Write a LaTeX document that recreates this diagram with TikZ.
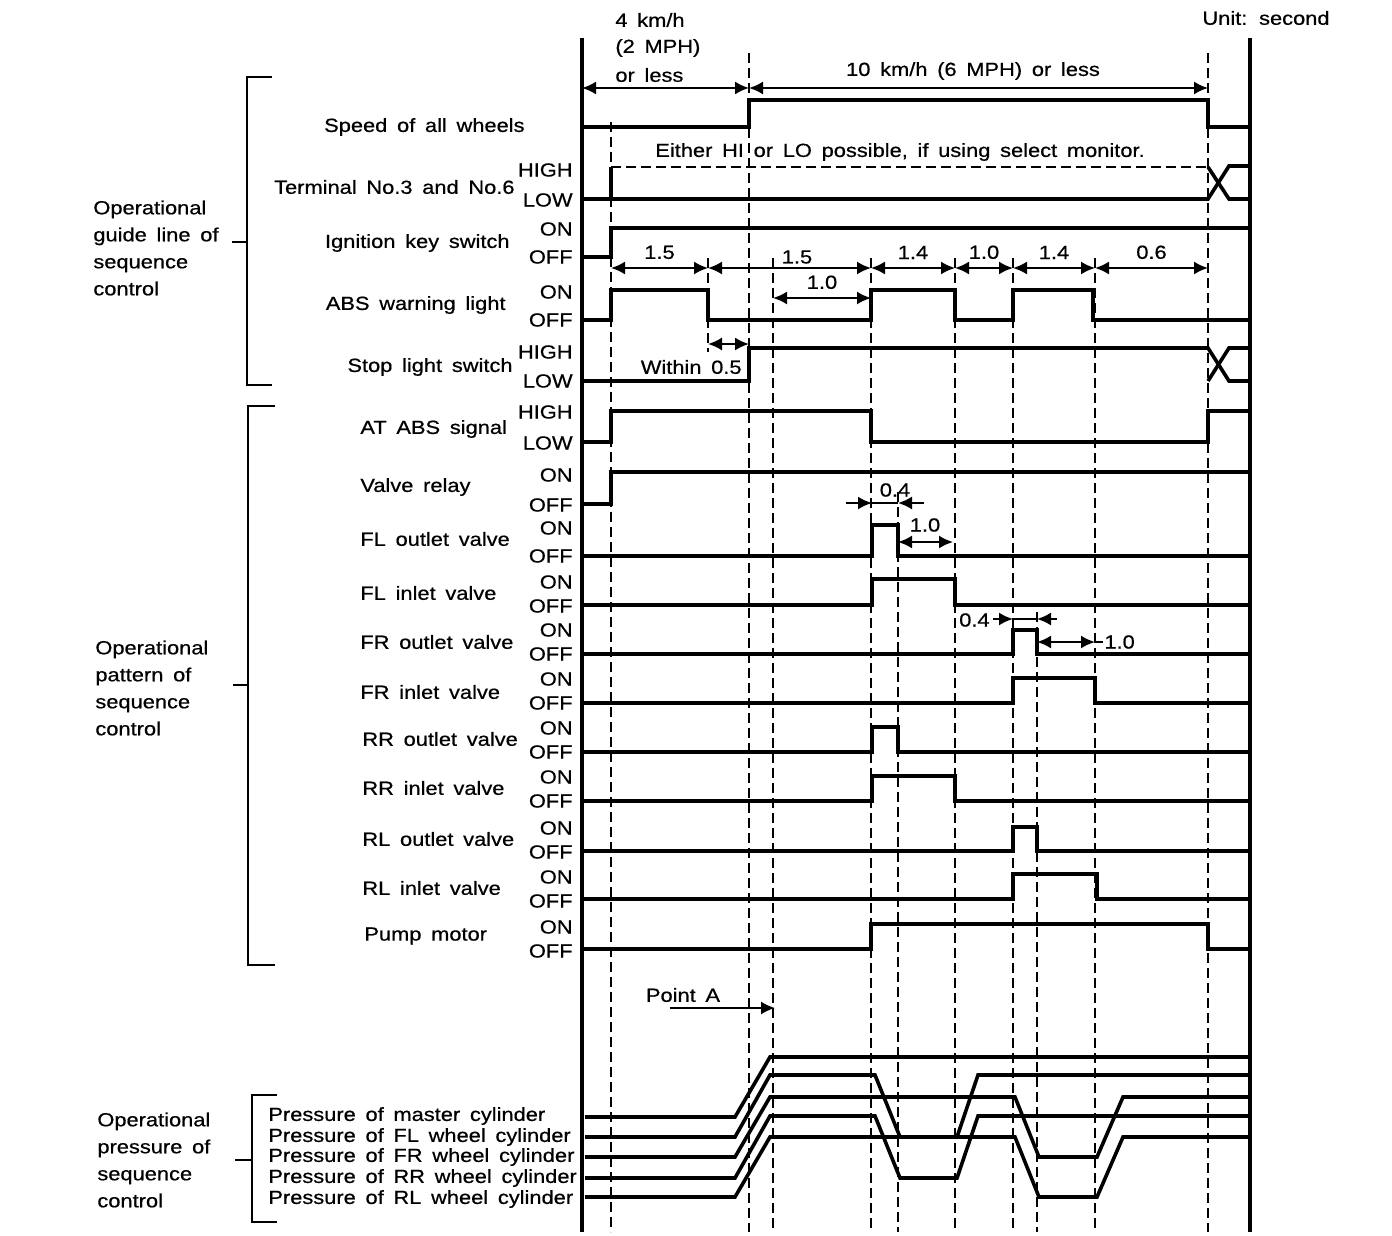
\documentclass[tikz,border=0pt]{standalone}
\usepackage{fontspec}
\setmainfont{Liberation Sans}[FakeStretch=1.15, WordSpace=1.6, FakeBold=0.6]
\usetikzlibrary{arrows.meta}
\tikzset{>={Latex[length=7pt,width=6.5pt]}}

\begin{document}
\begin{tikzpicture}[x=0.5pt, y=-0.5pt,
	every node/.style={font=\fontsize{9.5}{13.5}\selectfont, inner sep=0pt},
	sig/.style={line width=1.8pt},
	frame/.style={line width=2.4pt},
	guide/.style={line width=1.3pt, dash pattern=on 5pt off 2.5pt},
	brack/.style={line width=1pt},
	dim/.style={line width=1pt, <->}]

	\useasboundingbox (0,0) rectangle (1392,1236);

	% frame and time marks
	\draw[frame] (582,38) -- (582,1232);
	\draw[frame] (1250,38) -- (1250,1232);
	\foreach \x/\t in {611/122, 749/53, 773/258, 871/258, 898/492, 955/258, 1013/258, 1037/612, 1095/258, 1208/53}
		\draw[guide] (\x,\t) -- (\x,1232);
	\draw[guide] (708,258) -- (708,352);

	% brackets and group labels
	\draw[brack] (272,77) -- (247,77) -- (247,385) -- (272,385) (232,242) -- (247,242);
	\draw[brack] (275,406) -- (248,406) -- (248,965) -- (275,965) (233,685) -- (248,685);
	\draw[brack] (277,1095) -- (252,1095) -- (252,1222) -- (277,1222) (235,1160) -- (252,1160);
	\node[anchor=west, align=left] (grp-guide) at (93,248) {Operational\\guide line of\\sequence\\control};
	\node[anchor=west, align=left] (grp-pattern) at (95,688) {Operational\\pattern of\\sequence\\control};
	\node[anchor=west, align=left] (grp-pressure) at (97,1160) {Operational\\pressure of\\sequence\\control};

	% signal names
	\node[anchor=east] (lbl-speed) at (525,127) {Speed of all wheels};
	\node[anchor=east] (lbl-term) at (515,187) {Terminal No.3 and No.6};
	\node[anchor=east] (lbl-ign) at (510,243) {Ignition key switch};
	\node[anchor=east] (lbl-warn) at (506,305) {ABS warning light};
	\node[anchor=east] (lbl-stop) at (513,367) {Stop light switch};
	\node[anchor=west] (lbl-atabs) at (360,429) {AT ABS signal};
	\node[anchor=west] (lbl-relay) at (360,487) {Valve relay};
	\node[anchor=west] (lbl-flout) at (360,539) {FL outlet valve};
	\node[anchor=west] (lbl-flin) at (360,593) {FL inlet valve};
	\node[anchor=west] (lbl-frout) at (360,642) {FR outlet valve};
	\node[anchor=west] (lbl-frin) at (360,692) {FR inlet valve};
	\node[anchor=west] (lbl-rrout) at (362,739) {RR outlet valve};
	\node[anchor=west] (lbl-rrin) at (362,788) {RR inlet valve};
	\node[anchor=west] (lbl-rlout) at (362,839) {RL outlet valve};
	\node[anchor=west] (lbl-rlin) at (362,888) {RL inlet valve};
	\node[anchor=west] (lbl-pump) at (364,936) {Pump motor};
	\foreach \hi/\lo/\a/\b in {170/200/HIGH/LOW, 229/257/ON/OFF, 292/320/ON/OFF, 352/381/HIGH/LOW,
		412/443/HIGH/LOW, 475/505/ON/OFF, 528/556/ON/OFF, 582/606/ON/OFF, 630/654/ON/OFF,
		679/703/ON/OFF, 728/752/ON/OFF, 777/801/ON/OFF, 828/852/ON/OFF, 877/901/ON/OFF, 927/951/ON/OFF} {
		\node[anchor=east] (st-\hi) at (573,\hi) {\a};
		\node[anchor=east] (st-\lo) at (573,\lo) {\b};
	}
	\foreach \y/\t [count=\i] in {1116/master, 1137/FL wheel, 1157/FR wheel, 1178/RR wheel, 1199/RL wheel}
		\node[anchor=west] (pr-\i) at (268,\y) {Pressure of \t{} cylinder};

	% top notes
	\node[anchor=west] (spd-a) at (615,20) {4 km/h};
	\node[anchor=west] (spd-b) at (615,48) {(2 MPH)};
	\node[anchor=west] (spd-c) at (615,75) {or less};
	\node (spd-d) at (973,71) {10 km/h (6 MPH) or less};
	\node (unit) at (1266,18) {Unit: second};
	\node (either) at (900,152) {Either HI or LO possible, if using select monitor.};
	\draw[dim] (582,88) -- (749,88);
	\draw[dim] (749,88) -- (1208,88);

	% signals
	\draw[sig] (582,127) -- (749,127) -- (749,100) -- (1208,100) -- (1208,127) -- (1250,127);
	\draw[sig] (582,199) -- (1208,199) -- (1229,166) -- (1250,166);
	\draw[sig] (611,199) -- (611,167);
	\draw[guide] (611,167) -- (1208,167);
	\draw[sig] (1208,167) -- (1229,199) -- (1250,199);
	\draw[sig] (582,257) -- (611,257) -- (611,228) -- (1250,228);
	\draw[sig] (582,320) -- (611,320) -- (611,290) -- (708,290) -- (708,320) -- (871,320) -- (871,290) -- (955,290) -- (955,320) -- (1013,320) -- (1013,290) -- (1093,290) -- (1093,320) -- (1250,320);
	\draw[sig] (582,381) -- (749,381) -- (749,348) -- (1208,348) -- (1229,381) -- (1250,381);
	\draw[sig] (1208,381) -- (1229,348) -- (1250,348);
	\draw[sig] (582,442) -- (611,442) -- (611,411) -- (871,411) -- (871,442) -- (1208,442) -- (1208,411) -- (1250,411);
	\draw[sig] (582,504) -- (611,504) -- (611,472) -- (1250,472);
	\draw[sig] (582,556) -- (872,556) -- (872,525) -- (898,525) -- (898,556) -- (1250,556);
	\draw[sig] (582,605) -- (872,605) -- (872,579) -- (955,579) -- (955,605) -- (1250,605);
	\draw[sig] (582,654) -- (1013,654) -- (1013,630) -- (1037,630) -- (1037,654) -- (1250,654);
	\draw[sig] (582,703) -- (1013,703) -- (1013,678) -- (1095,678) -- (1095,703) -- (1250,703);
	\draw[sig] (582,752) -- (872,752) -- (872,727) -- (898,727) -- (898,752) -- (1250,752);
	\draw[sig] (582,801) -- (872,801) -- (872,776) -- (955,776) -- (955,801) -- (1250,801);
	\draw[sig] (582,851) -- (1013,851) -- (1013,827) -- (1037,827) -- (1037,851) -- (1250,851);
	\draw[sig] (582,899) -- (1013,899) -- (1013,874) -- (1097,874) -- (1097,899) -- (1250,899);
	\draw[sig] (582,949) -- (871,949) -- (871,924) -- (1208,924) -- (1208,949) -- (1250,949);

	% durations
	\draw[dim] (611,268) -- node[above=4pt] (d1) {1.5} (708,268);
	\draw[dim] (708,268) -- (871,268);
	\node (d2) at (797,257) {1.5};
	\draw[dim] (871,268) -- node[above=4pt] (d3) {1.4} (955,268);
	\draw[dim] (955,268) -- node[above=4pt] (d4) {1.0} (1013,268);
	\draw[dim] (1013,268) -- node[above=4pt] (d5) {1.4} (1095,268);
	\draw[dim] (1095,268) -- node[above=4pt] (d6) {0.6} (1208,268);
	\draw[dim] (773,298) -- node[above=4pt] (d7) {1.0} (871,298);
	\draw[dim] (708,344) -- (749,344);
	\node[anchor=east] (within) at (742,367) {Within 0.5};
	\draw[line width=1pt] (872,503) -- (898,503);
	\draw[line width=1pt, ->] (846,503) -- (872,503);
	\draw[line width=1pt, ->] (924,503) -- (898,503);
	\node (d8) at (895,490) {0.4};
	\draw[dim] (898,542) -- (953,542);
	\node (d9) at (925,525) {1.0};
	\draw[line width=1pt] (1013,619) -- (1037,619);
	\draw[line width=1pt, ->] (993,619) -- (1013,619);
	\draw[line width=1pt, ->] (1057,619) -- (1037,619);
	\node[anchor=east] (d10) at (990,620) {0.4};
	\draw[dim] (1037,642) -- (1095,642);
	\draw[line width=1pt] (1095,642) -- (1103,642);
	\node[anchor=west] (d11) at (1104,642) {1.0};

	% pressures
	\node (pa) at (683,995) {Point A};
	\draw[line width=1pt, ->] (670,1008) -- (775,1008);
	\draw[sig] (585,1117) -- (735,1117) -- (770,1057) -- (1250,1057);
	\draw[sig] (585,1137) -- (735,1137) -- (770,1075) -- (875,1075) -- (900,1137) -- (957,1137) -- (978,1075) -- (1250,1075);
	\draw[sig] (585,1157) -- (735,1157) -- (770,1097) -- (1015,1097) -- (1039,1157) -- (1097,1157) -- (1123,1097) -- (1250,1097);
	\draw[sig] (585,1178) -- (735,1178) -- (770,1116) -- (875,1116) -- (900,1178) -- (957,1178) -- (978,1116) -- (1250,1116);
	\draw[sig] (585,1197) -- (735,1197) -- (770,1137) -- (1015,1137) -- (1039,1197) -- (1097,1197) -- (1123,1137) -- (1250,1137);
\end{tikzpicture}
\end{document}
